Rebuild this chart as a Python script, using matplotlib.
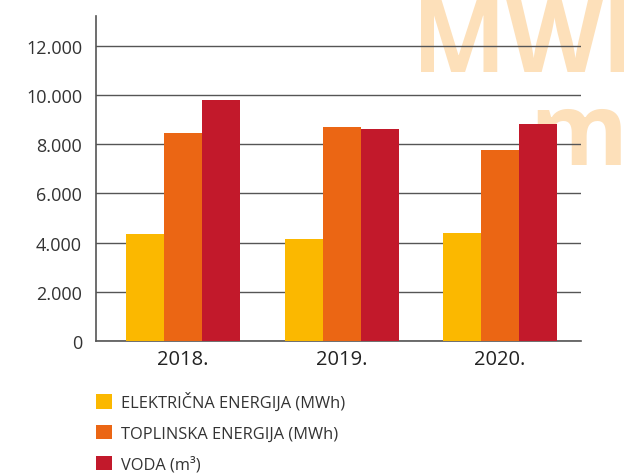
import matplotlib.pyplot as plt
import numpy as np
from matplotlib.patches import Patch

plt.rcParams['font.family'] = ['Open Sans', 'DejaVu Sans']

years = ['2018.', '2019.', '2020.']
struja = [4350, 4150, 4380]   # ELEKTRIČNA ENERGIJA (MWh)
toplina = [8450, 8700, 7750]  # TOPLINSKA ENERGIJA (MWh)
voda = [9800, 8600, 8800]     # VODA (m3)
labels = ['ELEKTRIČNA ENERGIJA (MWh)', 'TOPLINSKA ENERGIJA (MWh)', 'VODA (m³)']
colors = ['#FBB800', '#EB6614', '#C2192B']
yticks = [0, 2000, 4000, 6000, 8000, 10000, 12000]

fig = plt.figure(figsize=(6.24, 4.77), dpi=100)

# big faded watermark behind the chart (cut off by the right edge like the original)
fig.text(0.66, 1.01, 'MWh', fontsize=72, fontweight='bold', color='#FDE0BA',
         ha='left', va='top', zorder=-1)
fig.text(0.848, 0.815, 'm³', fontsize=72, fontweight='bold', color='#FDE0BA',
         ha='left', va='top', zorder=-1)

ax = fig.add_axes([0.1538, 0.283, 0.777, 0.681], zorder=1)
ax.patch.set_alpha(0)

x = np.arange(len(years))
w = 0.24
for i, (vals, c) in enumerate(zip([struja, toplina, voda], colors)):
    ax.bar(x + (i - 1) * w, vals, width=w, color=c, zorder=3)

ax.set_xlim(-0.55, 2.51)
ax.set_ylim(0, 13200)
ax.set_yticks(yticks)
ax.set_yticklabels(['{:,}'.format(v).replace(',', '.') for v in yticks])
ax.set_xticks(x)
ax.set_xticklabels(years)
ax.yaxis.grid(True, color='#555555', linewidth=1)
ax.set_axisbelow(True)
ax.tick_params(axis='y', length=0, labelsize=13, labelcolor='#333333', pad=10)
ax.tick_params(axis='x', length=0, labelsize=14.5, labelcolor='#222222', pad=6)

for s in ['top', 'right']:
    ax.spines[s].set_visible(False)
for s in ['left', 'bottom']:
    ax.spines[s].set_color('#555555')
    ax.spines[s].set_linewidth(1.2)

handles = [Patch(facecolor=c) for c in colors]
fig.legend(handles, labels, loc='upper left', bbox_to_anchor=(0.1436, 0.19),
           frameon=False, fontsize=11.8, labelcolor='#333333',
           handlelength=0.95, handleheight=0.95, handletextpad=0.55,
           labelspacing=0.85, borderaxespad=0)

fig.savefig('out.png', dpi=100)
